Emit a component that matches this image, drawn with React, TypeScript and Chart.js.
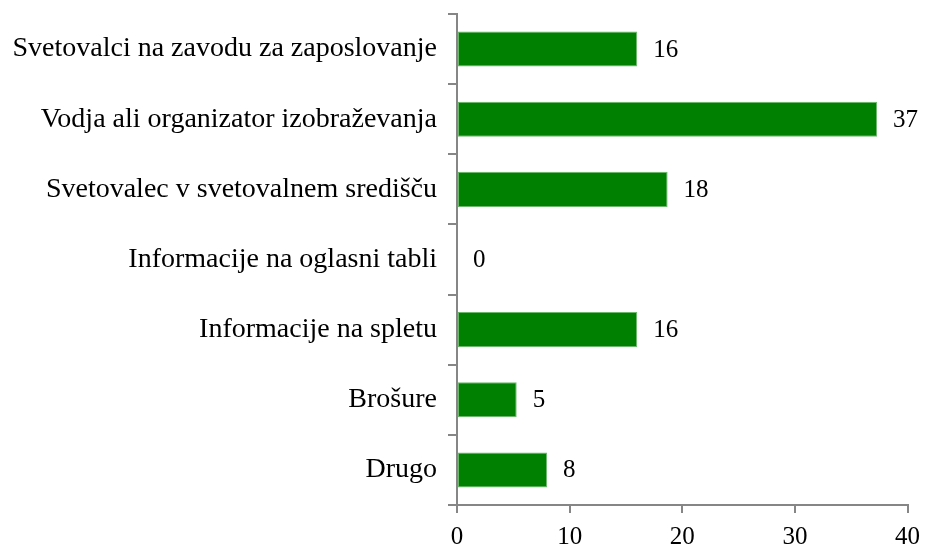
import React, { useEffect, useRef } from "react";
import { Chart, registerables } from "chart.js";

Chart.register(...registerables);

const categories = [
  "Svetovalci na zavodu za zaposlovanje",
  "Vodja ali organizator izobraževanja",
  "Svetovalec v svetovalnem središču",
  "Informacije na oglasni tabli",
  "Informacije na spletu",
  "Brošure",
  "Drugo",
];
const values = [16, 37.3, 18.7, 0, 16, 5.3, 8];
const valueLabels = ["16", "37", "18", "0", "16", "5", "8"];
const xTicks = [0, 10, 20, 30, 40];

const FONT = "'Liberation Serif', 'Times New Roman', serif";
const AXIS = "#868686";

const dataLabelPlugin = {
  id: "dataLabels",
  afterDatasetsDraw(chart: any) {
    const ctx = chart.ctx;
    const meta = chart.getDatasetMeta(0);
    ctx.save();
    ctx.font = `25px ${FONT}`;
    ctx.fillStyle = "#000";
    ctx.textAlign = "left";
    ctx.textBaseline = "middle";
    meta.data.forEach((bar: any, i: number) => {
      ctx.fillText(valueLabels[i], bar.x + 16, bar.y + 1);
    });
    ctx.restore();
  },
};

export default function App() {
  const ref = useRef<HTMLCanvasElement>(null);
  useEffect(() => {
    if (!ref.current) return;
    const chart = new Chart(ref.current, {
      type: "bar",
      data: {
        labels: categories,
        datasets: [
          {
            data: values,
            backgroundColor: "#008000",
            borderColor: "#6bb86b",
            borderWidth: 1,
            borderSkipped: false,
            barPercentage: 0.5,
            categoryPercentage: 1,
          },
        ],
      },
      options: {
        indexAxis: "y",
        animation: false,
        responsive: true,
        maintainAspectRatio: false,
        layout: { padding: { top: 14, right: 20, bottom: 0, left: 0 } },
        plugins: { legend: { display: false }, tooltip: { enabled: false } },
        scales: {
          x: {
            min: 0,
            max: 40,
            afterBuildTicks: (scale: any) => {
              scale.ticks = xTicks.map((v) => ({ value: v }));
            },
            afterFit: (scale: any) => {
              scale.height = 40;
            },
            ticks: {
              color: "#000",
              font: { family: FONT, size: 25 },
              padding: 9,
              maxRotation: 0,
            },
            grid: {
              drawOnChartArea: false,
              drawTicks: true,
              tickLength: 8,
              color: AXIS,
              lineWidth: 2,
            },
            border: { color: AXIS, width: 2 },
          },
          y: {
            afterFit: (scale: any) => {
              scale.width = 457;
              scale.paddingTop = 0;
              scale.paddingBottom = 0;
            },
            ticks: {
              color: "#000",
              font: { family: FONT, size: 28 },
              padding: 11,
            },
            grid: {
              offset: true,
              drawOnChartArea: false,
              tickLength: 9,
              color: AXIS,
              lineWidth: 2,
            },
            border: { color: AXIS, width: 2 },
          },
        },
      },
      plugins: [dataLabelPlugin],
    });
    return () => chart.destroy();
  }, []);
  return (
    <div style={{ position: "fixed", left: 0, top: 0, width: 929, height: 545, background: "#fff" }}>
      <canvas ref={ref} />
    </div>
  );
}
